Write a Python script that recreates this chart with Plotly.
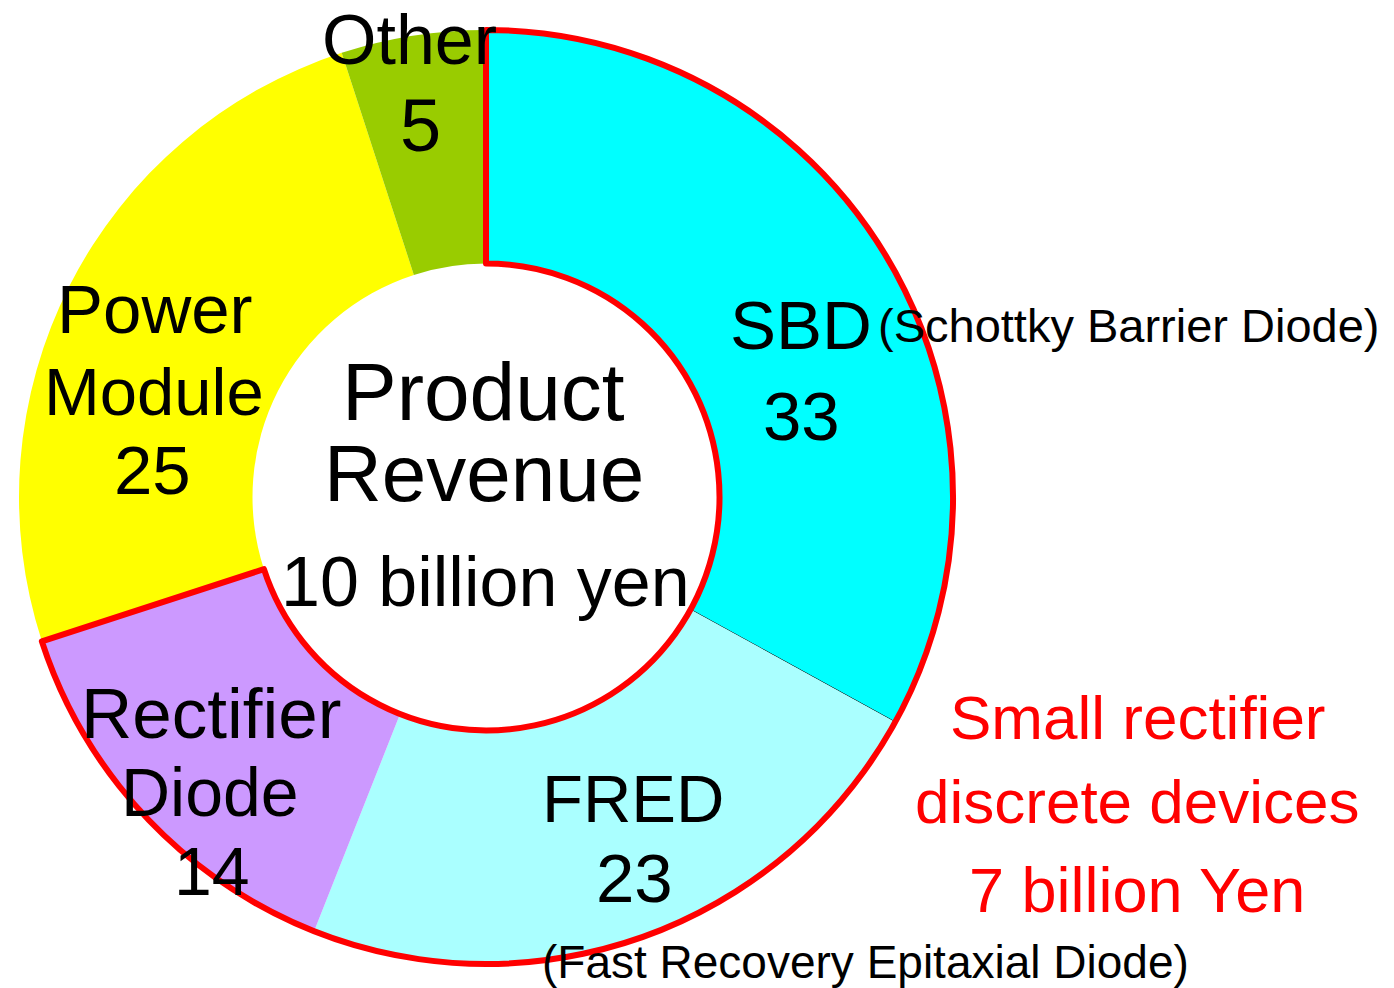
import plotly.graph_objects as go

# ---- data ----
labels = ["SBD", "FRED", "Rectifier Diode", "Power Module", "Other"]
values = [33, 23, 14, 25, 5]
colors = ["#00ffff", "#aaffff", "#cc99ff", "#ffff00", "#99cc00"]
center_title = ["Product", "Revenue"]
center_total = "10 billion yen"
group_text = ["Small rectifier", "discrete devices", "7 billion Yen"]
sbd_full = "(Schottky Barrier Diode)"
fred_full = "(Fast Recovery Epitaxial Diode)"

W, H = 1394, 988
FONT = "Liberation Sans, Arial, sans-serif"

# pie geometry (pixels)
cx, cy, R = 486, 497, 467
dom_x = [(cx - R) / W, (cx + R) / W]
dom_y = [1 - (cy + R) / H, 1 - (cy - R) / H]

fig = go.Figure()

# main donut
line_cols = ["black"] + ["rgba(0,0,0,0)"] * (len(values) - 1)
line_w = [1] + [0] * (len(values) - 1)
fig.add_trace(go.Pie(
    labels=labels, values=values, hole=0.5, sort=False,
    direction="clockwise", rotation=0,
    marker=dict(colors=colors, line=dict(color=line_cols, width=line_w)),
    textinfo="none", hoverinfo="label+value",
    domain=dict(x=dom_x, y=dom_y), showlegend=False,
))

# red outline around small rectifier discrete devices (first three slices)
group_values = [sum(values[:3]), sum(values[3:])]
fig.add_trace(go.Pie(
    labels=["Small rectifier discrete devices", "Rest"], values=group_values,
    hole=0.5, sort=False, direction="clockwise", rotation=0,
    marker=dict(colors=["rgba(0,0,0,0)", "rgba(0,0,0,0)"],
                line=dict(color=["#ff0000", "rgba(0,0,0,0)"], width=[6, 0])),
    textinfo="none", hoverinfo="skip",
    domain=dict(x=dom_x, y=dom_y), showlegend=False,
))

annots = []


def add(text, px, py, size, color="black"):
    annots.append(dict(
        text=text, x=px / W, y=1 - py / H, xref="paper", yref="paper",
        xanchor="center", yanchor="middle", showarrow=False,
        font=dict(family=FONT, size=size, color=color),
    ))


# center
add(center_title[0], 483, 392, 82)
add(center_title[1], 484, 474, 80)
add(center_total, 485, 582, 70)

# slice labels
add("SBD", 801, 325, 69)
add(str(values[0]), 801, 416, 69)
add(sbd_full, 1129, 326, 47)

add("FRED", 633, 798, 67)
add(str(values[1]), 634, 878, 69)
add(fred_full, 865, 962, 46)

add("Rectifier", 211, 713, 71)
add("Diode", 210, 792, 68)
add(str(values[2]), 212, 871, 68)

add("Power", 155, 309, 69)
add("Module", 154, 391, 67)
add(str(values[3]), 152, 470, 69)

add("Other", 409, 40, 70)
add(str(values[4]), 420, 125, 74)

# group annotation (red)
add(group_text[0], 1138, 717, 62, "#ff0000")
add(group_text[1], 1137, 801, 62, "#ff0000")
add(group_text[2], 1137, 890, 63, "#ff0000")

fig.update_layout(
    width=W, height=H, margin=dict(l=0, r=0, t=0, b=0),
    paper_bgcolor="white", plot_bgcolor="white",
    annotations=annots, showlegend=False,
)

fig.write_html("out.html", config={"displayModeBar": False},
               post_script="document.body.style.margin='0';")
